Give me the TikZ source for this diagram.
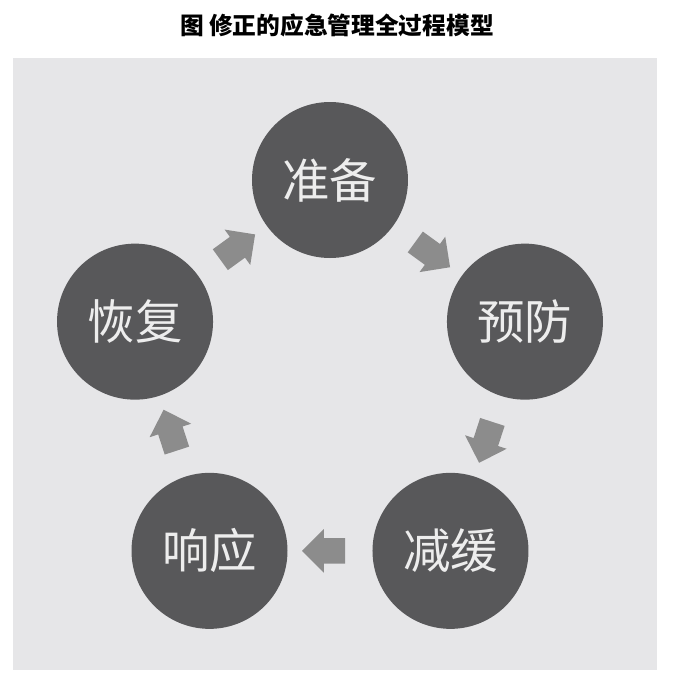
\documentclass[tikz,border=0pt]{standalone}
\usepackage{fontspec}
\newfontfamily\cjk{Noto Sans CJK SC}
\usepackage{xcolor}
\definecolor{stageFill}{HTML}{58585A}
\definecolor{stageText}{HTML}{EDEDED}
\definecolor{flowArrow}{HTML}{8C8C8C}
\definecolor{panelBg}{HTML}{E6E6E8}
\usetikzlibrary{shapes.arrows}

\tikzset{
  stage/.style={circle, draw=none, fill=stageFill, minimum size=3.12cm, text=stageText, font=\cjk\fontsize{27}{27}\selectfont},
  flow/.style={single arrow, draw=none, fill=flowArrow, inner xsep=0pt, inner ysep=0.25cm, single arrow head extend=0.18cm, minimum height=0.86cm, sloped, allow upside down}
}

\begin{document}
\begin{tikzpicture}
  \useasboundingbox (-6.6cm,-6.06cm) rectangle (6.9cm,7.7cm);
  \filldraw[fill=panelBg, draw=none] (-6.34cm,-5.7cm) rectangle (6.54cm,6.54cm);
  \node[font=\cjk\bfseries\fontsize{13.5}{13.5}\selectfont] (title) at (0.14cm,7.2cm) {图\ 修正的应急管理全过程模型};
  \node[stage] (zb) at (90:4.1cm) {准备};
  \node[stage] (yf) at (18:4.1cm) {预防};
  \node[stage] (jh) at (-54:4.1cm) {减缓};
  \node[stage] (xy) at (-126:4.1cm) {响应};
  \node[stage] (hf) at (162:4.1cm) {恢复};
  \path (hf) -- node[flow] (a1) {} (zb);
  \path (zb) -- node[flow] (a2) {} (yf);
  \path (yf) -- node[flow] (a3) {} (jh);
  \path (jh) -- node[flow] (a4) {} (xy);
  \path (xy) -- node[flow] (a5) {} (hf);
\end{tikzpicture}
\end{document}
